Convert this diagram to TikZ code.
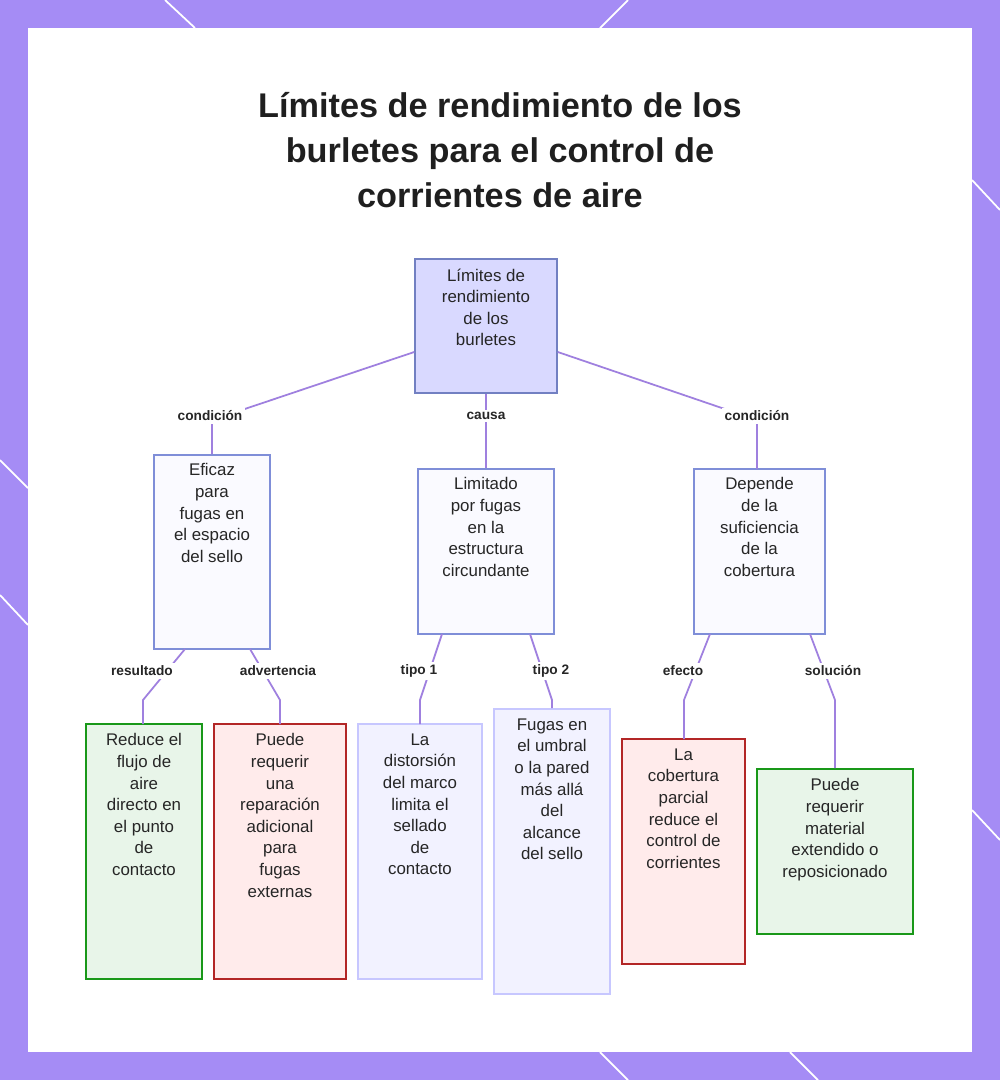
\documentclass[tikz,border=0pt]{standalone}
\usepackage{fontspec}
\setmainfont{Liberation Sans}
\begin{document}
\begin{tikzpicture}[x=0.02cm,y=-0.02cm,
  box/.style={draw,line width=0.9pt,inner sep=0pt},
  mid/.style={box,fill=blue!2,draw=midline},
  leafg/.style={box,fill=greenfill,draw=green!55!black!90},
  leafr/.style={box,fill=red!8,draw=red!65!black!85},
  leafb/.style={box,fill=blue!5,draw=blue!22},
  txt/.style={anchor=north,align=center,font=\fontsize{9.6}{12.3}\selectfont,text=black!85,inner sep=0pt},
  lbl/.style={fill=white,font=\bfseries\fontsize{7.8}{9}\selectfont,inner sep=1.5pt,text=black!85},
  con/.style={draw=violet!50!blue!50,line width=1pt}]
\definecolor{bg}{HTML}{A58CF5}
\definecolor{midline}{HTML}{7F8ED8}
\definecolor{greenfill}{HTML}{E8F5E9}
\useasboundingbox (0,0) rectangle (1000,1080);
\fill[bg] (0,0) rectangle (1000,1080);
\fill[white] (28,28) rectangle (972,1052);
\foreach \a/\b/\c/\d in {165/0/195/28, 600/28/628/0, 972/180/1000/210, 0/460/28/488, 0/595/28/625, 972/810/1000/840, 600/1052/628/1080, 790/1052/818/1080}
  \draw[white,line width=1pt] (\a,\b)--(\c,\d);
\node[font=\bfseries\fontsize{19.5}{25.5}\selectfont,align=center,text=black!88] (title) at (500,150) {Límites de rendimiento de los\\burletes para el control de\\corrientes de aire};
\node[box,fill=blue!15,draw=midline!90!black,minimum width=2.84cm,minimum height=2.68cm] (root) at (486,326) {};
\node[mid,minimum width=2.32cm,minimum height=3.88cm] (A) at (212,552) {};
\node[mid,minimum width=2.72cm,minimum height=3.3cm] (B) at (486,551.5) {};
\node[mid,minimum width=2.62cm,minimum height=3.3cm] (C) at (759.5,551.5) {};
\node[leafg,minimum width=2.32cm,minimum height=5.1cm] (L1) at (144,851.5) {};
\node[leafr,minimum width=2.64cm,minimum height=5.1cm] (L2) at (280,851.5) {};
\node[leafb,minimum width=2.48cm,minimum height=5.1cm] (L3) at (420,851.5) {};
\node[leafb,minimum width=2.32cm,minimum height=5.7cm] (L4) at (552,851.5) {};
\node[leafr,minimum width=2.46cm,minimum height=4.5cm] (L5) at (683.5,851.5) {};
\node[leafg,minimum width=3.12cm,minimum height=3.3cm] (L6) at (835,851.5) {};
\node[txt] at ([yshift=-0.2cm]root.north) {Límites de\\rendimiento\\de los\\burletes};
\node[txt] at ([yshift=-0.18cm]A.north) {Eficaz\\para\\fugas en\\el espacio\\del sello};
\node[txt] at ([yshift=-0.18cm]B.north) {Limitado\\por fugas\\en la\\estructura\\circundante};
\node[txt] at ([yshift=-0.18cm]C.north) {Depende\\de la\\suficiencia\\de la\\cobertura};
\node[txt] at ([yshift=-0.2cm]L1.north) {Reduce el\\flujo de\\aire\\directo en\\el punto\\de\\contacto};
\node[txt] at ([yshift=-0.2cm]L2.north) {Puede\\requerir\\una\\reparación\\adicional\\para\\fugas\\externas};
\node[txt] at ([yshift=-0.2cm]L3.north) {La\\distorsión\\del marco\\limita el\\sellado\\de\\contacto};
\node[txt] at ([yshift=-0.2cm]L4.north) {Fugas en\\el umbral\\o la pared\\más allá\\del\\alcance\\del sello};
\node[txt] at ([yshift=-0.2cm]L5.north) {La\\cobertura\\parcial\\reduce el\\control de\\corrientes};
\node[txt] at ([yshift=-0.2cm]L6.north) {Puede\\requerir\\material\\extendido o\\reposicionado};
\draw[con] (root.west|-0,352) -- (212,420) -- (A.north);
\draw[con] (root.south) -- (B.north);
\draw[con] (root.east|-0,352) -- (757,420) -- (757,469);
\draw[con] (185,649) -- (143,700) -- (143,724);
\draw[con] (250,649) -- (280,700) -- (280,724);
\draw[con] (442,634) -- (420,700) -- (420,724);
\draw[con] (530,634) -- (552,700) -- (L4.north);
\draw[con] (710,634) -- (684,700) -- (684,739);
\draw[con] (810,634) -- (835,700) -- (L6.north);
\node[lbl] (k1) at (210,416) {condición};
\node[lbl] (k2) at (486,416) {causa};
\node[lbl] (k3) at (757,416) {condición};
\node[lbl] (k4) at (142,671) {resultado};
\node[lbl] (k5) at (278,671) {advertencia};
\node[lbl] (k6) at (419,671) {tipo 1};
\node[lbl] (k7) at (551,671) {tipo 2};
\node[lbl] (k8) at (683,671) {efecto};
\node[lbl] (k9) at (833,671) {solución};
\end{tikzpicture}
\end{document}
